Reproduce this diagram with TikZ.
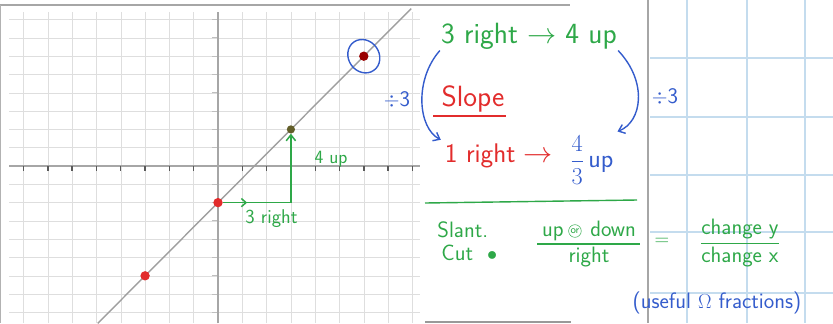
\documentclass[tikz,border=0pt]{standalone}
\usepackage{amsmath}
\usetikzlibrary{arrows.meta}
\definecolor{penGreen}{RGB}{46,168,72}
\definecolor{penRed}{RGB}{226,44,44}
\definecolor{penBlue}{RGB}{52,92,204}
\definecolor{paperBlue}{RGB}{196,220,238}
\definecolor{gridGray}{RGB}{222,222,222}

\tikzset{
  bigpen/.style={font=\sffamily\fontsize{25}{27}\selectfont,inner sep=1pt},
  midpen/.style={font=\sffamily\fontsize{19}{21}\selectfont,inner sep=1pt},
  smallpen/.style={font=\sffamily\fontsize{16}{18}\selectfont,inner sep=1pt},
  reddot/.style={circle,fill=penRed,inner sep=0pt,minimum size=8pt},
  bluecurve/.style={penBlue,line width=1.2pt,-{Straight Barb[length=5pt,width=8pt]}}
}

\begin{document}
\begin{tikzpicture}[x=0.03cm,y=-0.03cm]
  \useasboundingbox (0,0) rectangle (833,323);
  % ruled paper on the right
  \foreach \u in {687,747,805} \draw[paperBlue,line width=1pt] (\u,0)--(\u,323);
  \foreach \v in {58,117,175,232,293} \draw[paperBlue,line width=1.2pt] (650,\v)--(833,\v);
  \draw[gray!70,line width=2.5pt] (648,0)--(648,323);
  \draw[gray!70,line width=2.5pt] (0,5)--(570,5);
  \draw[gray!60,line width=1pt] (0.5,5)--(0.5,323);
  \draw[gray!80,line width=2pt] (425,322)--(571,322);
  % coordinate plane
  \begin{scope}[shift={(218,166)},x=0.729cm,y=0.549cm]
    \foreach \k in {-8,...,8} {
      \draw[gridGray] (\k,-8.6)--(\k,8.4);
      \draw[gridGray] (-8.6,\k)--(8.3,\k);
    }
    \draw[gray!70,line width=1pt] (-8.6,0)--(8.3,0);
    \draw[gray!70,line width=1pt] (0,-8.6)--(0,8.4);
    \foreach \k in {-8,...,-1,1,2,...,8} {
      \draw[gray!70!black,line width=1.2pt] (\k,0)--(\k,-0.25);
      \draw[gray!50,line width=0.8pt] (-0.25,\k)--(-0.05,\k);
    }
    \draw[gray!75,line width=1.2pt] (-4.95,-8.6)--(7.95,8.6);
    \node[reddot] (yint) at (0,-2) {};
    \node[reddot] (low) at (-3,-6) {};
    \node[reddot,fill=red!60!black] (top) at (6,6) {};
    \node[reddot,fill=olive!60!black,minimum size=7pt] (rise) at (3,2) {};
    \draw[penBlue,line width=1.2pt] (top) ellipse [x radius=0.46cm,y radius=0.52cm,rotate=35];
    \coordinate (mid) at (1.2,-2);
    \coordinate (corner) at (3,-2);
    \draw[penGreen,line width=1.3pt,-{Straight Barb[length=4pt,width=7pt]}] (yint.east)--(mid);
    \draw[penGreen,line width=1.3pt] (mid)--(corner);
    \draw[penGreen,line width=1.3pt,-{Straight Barb[length=5pt,width=8pt]}] (corner)--(rise.south);
    \node[font=\sffamily\fontsize{17}{19}\selectfont,text=penGreen] (run) at (2.2,-2.85) {3 right};
    \node[smallpen,text=penGreen] (up) at (4.65,0.35) {4 up};
  \end{scope}
  % handwriting
  \node[bigpen,text=penGreen] (tr) at (529,36) {3 right $\to$ 4 up};
  \node[bigpen,text=penRed] (slope) at (473,99) {Slope};
  \draw[penRed,line width=1pt] ([xshift=-6pt,yshift=-2pt]slope.south west)--([yshift=-2pt]slope.south east);
  \node[font=\sffamily\fontsize{23}{25}\selectfont,text=penRed] (oneright) at (499,156) {1 right $\to$};
  \node[font=\sffamily\fontsize{22}{24}\selectfont,text=penBlue,anchor=west] (fracup) at (566,160) {$\dfrac{4}{3}$\,up};
  \node[midpen,text=penBlue] (divl) at (397,100) {$\div$3};
  \node[midpen,text=penBlue] (divr) at (665,97) {$\div$3};
  \draw[bluecurve] (tr.south west) .. controls (414,80) and (418,128) .. (oneright.north west);
  \draw[bluecurve] (tr.south east) .. controls (648,82) and (642,122) .. (fracup.north east);
  \draw[penGreen,line width=1.2pt] (425,203)--(637,200);
  \node[midpen,text=penGreen,anchor=west] (slant) at (436,230) {Slant.};
  \node[midpen,text=penGreen,anchor=west] (cut) at (440,253) {Cut~~$\bullet$};
  % up (or) down over right
  \node[midpen,text=penGreen] (num) at (589,231) {up\hspace{1.2em}down};
  \node[midpen,text=penGreen] (den) at (589,257) {right};
  \draw[penGreen,line width=1pt] (537,244)--(640,244);
  \node[draw=penGreen,circle,text=penGreen,font=\sffamily\fontsize{9}{10}\selectfont,inner sep=0.8pt] (orword) at ([xshift=-12pt]num.center) {or};
  \node[midpen,text=penGreen] (eq) at (662,242) {$=$};
  \node[midpen,text=penGreen] (chg) at (740,243) {$\dfrac{\text{change y}}{\text{change x}}$};
  \node[midpen,text=penBlue] (useful) at (717,303) {(useful $\Omega$ fractions)};
\end{tikzpicture}
\end{document}
